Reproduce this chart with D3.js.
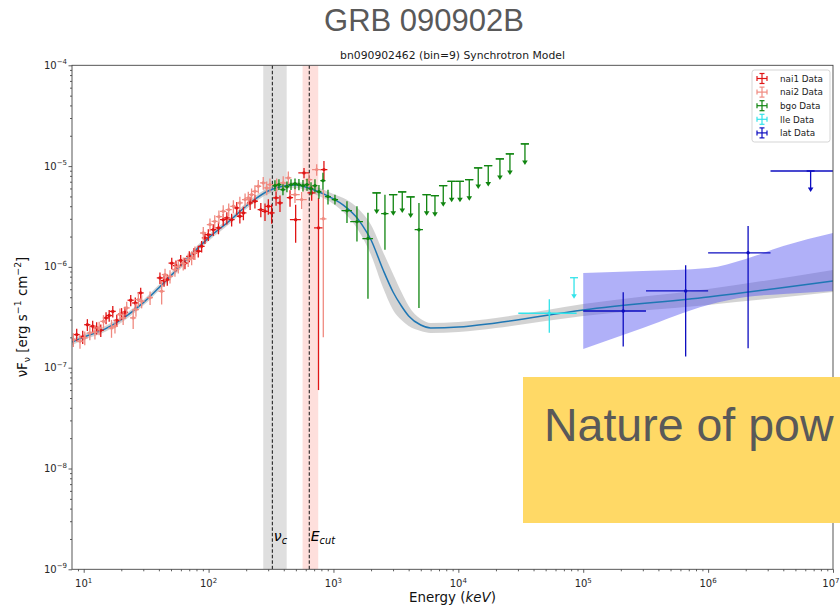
<!DOCTYPE html>
<html>
<head>
<meta charset="utf-8">
<title>GRB 090902B</title>
<script src="https://cdn.jsdelivr.net/npm/d3@7/dist/d3.min.js"></script>
<style>
  html, body { margin: 0; padding: 0; background: #ffffff; }
  svg { display: block; }
</style>
</head>
<body>
<svg id="chart" width="840" height="610"></svg>
<script>
// ---------------------------------------------------------------
// Data. Energies in keV, fluxes (nuFnu) in units of 1e-7 erg s^-1 cm^-2
// ---------------------------------------------------------------
const FLUX_UNIT = 1e-7;

// Best-fit synchrotron + power-law model and its 68% band
const modelE  = [8, 10, 15, 20, 30, 40, 50, 70, 100, 150, 200, 300, 400, 500, 700, 1000, 1200, 1500, 1700, 2000, 2500, 3000, 3500, 4000, 5000, 6000, 1e4, 2e4, 1e5, 1e6, 1e7];
const modelF  = [1.79, 2.01, 2.44, 3.00, 4.42, 6.22, 8.19, 12.6, 19.4, 29.2, 40.2, 56.6, 63.5, 64.9, 57.9, 47.2, 41.1, 32.0, 26.0, 18.5, 9.31, 5.64, 4.09, 3.26, 2.65, 2.48, 2.53, 2.78, 3.74, 5.03, 7.25];
const modelLo = [1.67, 1.88, 2.28, 2.80, 4.13, 5.81, 7.65, 11.8, 18.1, 27.3, 37.5, 52.8, 59.3, 60.6, 52.8, 42.1, 35.0, 25.5, 19.8, 13.1, 6.17, 3.74, 2.97, 2.59, 2.31, 2.21, 2.26, 2.48, 3.26, 4.19, 5.64];
const modelHi = [1.92, 2.15, 2.61, 3.21, 4.73, 6.66, 8.77, 13.5, 20.8, 31.3, 43.1, 60.6, 68.0, 69.5, 63.5, 52.9, 48.2, 40.2, 34.2, 26.1, 14.0, 8.51, 5.63, 4.10, 3.04, 2.78, 2.84, 3.12, 4.29, 6.04, 9.32];

// Spectral break energies (cooling frequency, cutoff) with uncertainty ranges
const breakNames = ["c", "cut"];
const breakE  = [324, 640];
const breakLo = [274, 566];
const breakHi = [422, 755];

// NaI detector 1
const nai1E  = [8.79, 9.82, 10.7, 11.8, 12.7, 13.7, 15.1, 16.0, 17.1, 18.4, 20.1, 21.4, 23.8, 25.9, 28.6, 40.8, 44.0, 46.7, 50.7, 54.8, 59.8, 64.7, 70.1, 76.4, 82.7, 88.0, 93.5, 99.5, 109, 120, 131, 140, 153, 168, 178, 190, 215, 235, 262, 283, 301, 320, 347, 373, 449, 498, 581, 669, 759, 839];
const nai1dE = [0.50, 0.56, 0.61, 0.67, 0.72, 0.78, 0.86, 0.91, 0.97, 1.05, 1.15, 1.22, 1.36, 1.48, 1.63, 2.3, 2.5, 2.7, 2.9, 3.1, 3.4, 3.7, 4.0, 4.4, 4.7, 5.0, 5.3, 5.7, 6.2, 6.8, 7.5, 8.0, 8.7, 9.6, 10, 11, 12, 13, 15, 16, 17, 18, 20, 21, 26, 50, 58, 50, 60, 55];
const nai1F  = [2.13, 2.02, 2.67, 2.58, 2.48, 2.35, 3.12, 3.29, 3.62, 2.95, 3.44, 3.55, 4.67, 4.39, 5.52, 7.78, 7.31, 7.48, 10.9, 10.3, 11.6, 10.9, 12.7, 13.6, 14.3, 16.0, 19.4, 20.9, 23.4, 24.4, 29.4, 30.6, 29.4, 38.5, 31.8, 34.3, 43.1, 44.8, 37.0, 35.6, 39.9, 34.3, 48.4, 43.1, 48.6, 29.4, 85.6, 54.2, 24.4, 92.3];
const nai1dF = [0.30, 0.30, 0.36, 0.35, 0.34, 0.33, 0.42, 0.44, 0.48, 0.40, 0.46, 0.47, 0.60, 0.57, 0.70, 1.0, 0.95, 0.97, 1.4, 1.3, 1.5, 1.4, 1.6, 1.8, 1.9, 2.1, 2.5, 2.8, 3.1, 3.3, 4.0, 4.2, 4.2, 5.5, 4.8, 5.2, 6.5, 6.8, 6.0, 7.0, 7.0, 7.5, 8.0, 8.0, 9.0, 12, 10, 9.0, 23.8, 20];

// NaI detector 2
const nai2E  = [8.26, 9.34, 10.2, 11.2, 12.3, 13.3, 14.4, 16.7, 17.8, 19.5, 20.7, 22.1, 24.9, 26.2, 27.4, 29.1, 34.0, 42.1, 44.8, 49.1, 53.8, 57.2, 62.7, 68.7, 73.2, 77.8, 90.7, 102.6, 112, 121, 131, 145, 158, 178, 196, 208, 221, 235, 250, 274, 292, 310, 351, 396, 435, 492, 556, 637, 734, 829];
const nai2dE = [0.47, 0.53, 0.58, 0.64, 0.70, 0.76, 0.82, 0.95, 1.0, 1.1, 1.2, 1.26, 1.42, 1.5, 1.56, 1.66, 1.9, 2.4, 2.6, 2.8, 3.1, 3.3, 3.6, 3.9, 4.2, 4.4, 5.2, 5.8, 6.4, 6.9, 7.5, 8.3, 9.0, 10, 11, 12, 12.6, 13.4, 14, 16, 17, 18, 20, 23, 25, 45, 55, 40, 60, 50];
const nai2F  = [1.90, 1.83, 1.98, 2.21, 2.25, 2.48, 2.88, 2.48, 2.58, 3.37, 3.12, 3.92, 3.12, 3.77, 4.74, 4.56, 4.95, 5.73, 8.39, 8.06, 9.40, 10.1, 10.8, 11.8, 12.3, 13.8, 21.7, 26.3, 28.3, 31.5, 35.6, 37.0, 39.9, 43.1, 46.5, 48.4, 52.1, 56.2, 63.1, 68.1, 60.8, 65.5, 65.5, 68.1, 76.4, 52.1, 46.5, 73.5, 92.3, 30.0];
const nai2dF = [0.30, 0.29, 0.31, 0.34, 0.35, 0.38, 0.44, 0.50, 0.40, 0.50, 0.47, 0.58, 0.70, 0.56, 0.70, 0.68, 0.75, 1.5, 1.2, 1.2, 1.4, 1.5, 1.6, 1.8, 1.9, 2.1, 3.2, 3.9, 4.2, 4.7, 5.3, 5.5, 6.0, 6.5, 7.0, 7.3, 7.8, 8.4, 9.5, 10, 9.5, 10, 10, 11, 12, 9, 9, 11, 12, 28];

// BGO detections
const bgoE   = [340, 366, 394, 424, 457, 492, 529, 570, 614, 661, 711, 765, 824, 904, 1028, 1283, 1542, 1889, 2584, 4837];
const bgodE  = [16, 17, 19, 20, 22, 23, 25, 27, 29, 31, 34, 36, 39, 50, 60, 123, 180, 185, 175, 370];
const bgoF   = [64.0, 65.5, 58.4, 62.5, 65.5, 67.0, 65.5, 64.0, 65.5, 59.7, 64.0, 55.8, 71.7, 49.8, 46.5, 36.1, 28.1, 19.1, 33.8, 23.4];
const bgoFlo = [56.5, 58.0, 51.5, 55.0, 58.0, 59.0, 57.5, 56.0, 57.0, 51.5, 55.0, 47.5, 58.4, 41.5, 41.5, 27.3, 17.9, 4.84, 14.8, 3.92];
const bgoFhi = [72.5, 74.0, 66.0, 70.5, 74.0, 75.5, 74.5, 73.0, 75.0, 69.0, 74.0, 65.0, 86.1, 58.4, 52.1, 44.7, 39.9, 34.5, 52.1, 43.1];
// BGO upper limits
const bgoUlE  = [2218, 3012, 3555, 4151, 5576, 6498, 7571, 8840, 10300, 12230, 14430, 17350, 21530, 25890, 34140];
const bgoUldE = [170, 230, 270, 315, 420, 490, 575, 670, 780, 930, 1100, 1320, 1640, 1970, 2600];
const bgoUlF  = [54.2, 52.1, 55.4, 49.4, 52.1, 50.9, 64.0, 70.6, 70.6, 73.4, 95.9, 101.1, 117.8, 132.0, 165.9];

// LAT Low Energy events
const lleE   = [5.35e4];
const lleElo = [3.02e4];
const lleEhi = [8.85e4];
const lleF   = [3.47];
const lleFlo = [2.22];
const lleFhi = [4.77];
const lleUlE = [8.44e4];
const lleUlF = [7.81];

// LAT
const latE   = [2.09e5, 6.61e5, 2.09e6];
const latElo = [1.0e5, 3.18e5, 1.0e6];
const latEhi = [3.18e5, 1.0e6, 3.16e6];
const latF   = [3.65, 5.77, 13.8];
const latFlo = [1.62, 1.29, 1.56];
const latFhi = [5.60, 10.4, 25.5];
const latUlE   = [6.62e6];
const latUlElo = [3.16e6];
const latUlEhi = [1.4e7];
const latUlF   = [89.4];
// LAT power-law butterfly
const latBandE  = [1e5, 3e5, 1e6, 2e6, 4e6, 1e7];
const latBandLo = [1.53, 2.48, 4.19, 5.03, 5.38, 5.77];
const latBandHi = [8.70, 9.10, 9.75, 12.0, 16.1, 21.7];

// Axis decades and legend
const xTickExp = [1, 2, 3, 4, 5, 6, 7];
const yTickExp = [-9, -8, -7, -6, -5, -4];
const legendNames = ["nai1 Data", "nai2 Data", "bgo Data", "lle Data", "lat Data"];

// ---------------------------------------------------------------
// Drawing
// ---------------------------------------------------------------
const W = 840;
const svg = d3.select('#chart');
const PLOT = { left: 72, right: 833, top: 65.3, bottom: 569.3 };
const chartFont = "'DejaVu Sans', Verdana, sans-serif";
const slideFont = "'Liberation Sans', Arial, sans-serif";
const COLORS = {
  nai1: '#e01515', nai2: '#f08a80', bgo: '#108510', lle: '#33e3ea', lat: '#0c0cc0',
  model: '#1f77b4'
};
const legendColors = [COLORS.nai1, COLORS.nai2, COLORS.bgo, COLORS.lle, COLORS.lat];

const x = d3.scaleLog().domain([8.06, 1e7]).range([PLOT.left, PLOT.right]);
const y = d3.scaleLog().domain([1e-9, 1e-4]).range([PLOT.bottom, PLOT.top]);
const fy = v => y(Math.max(v, 1e-4) * FLUX_UNIT);

// slide title
svg.append('text')
  .attr('x', 424).attr('y', 31).attr('text-anchor', 'middle')
  .attr('font-family', slideFont).attr('font-size', 31).attr('fill', '#595959')
  .text('GRB 090902B');

// axes title
svg.append('text')
  .attr('x', (PLOT.left + PLOT.right) / 2).attr('y', 59).attr('text-anchor', 'middle')
  .attr('font-family', chartFont).attr('font-size', 10.8).attr('fill', '#1a1a1a')
  .text('bn090902462 (bin=9) Synchrotron Model');

svg.append('defs').append('clipPath').attr('id', 'plotClip').append('rect')
  .attr('x', PLOT.left).attr('y', PLOT.top)
  .attr('width', PLOT.right - PLOT.left).attr('height', PLOT.bottom - PLOT.top);

const plot = svg.append('g').attr('clip-path', 'url(#plotClip)');

// shaded break-energy ranges and dashed markers
const breakFill = ['#808080', '#fa8072'];
breakE.forEach((e, i) => {
  plot.append('rect')
    .attr('x', x(breakLo[i])).attr('width', x(breakHi[i]) - x(breakLo[i]))
    .attr('y', PLOT.top).attr('height', PLOT.bottom - PLOT.top)
    .attr('fill', breakFill[i]).attr('fill-opacity', 0.25);
});
breakE.forEach(e => {
  plot.append('line')
    .attr('x1', x(e)).attr('x2', x(e)).attr('y1', PLOT.top).attr('y2', PLOT.bottom)
    .attr('stroke', '#111').attr('stroke-width', 1).attr('stroke-dasharray', '3.5,2');
});

// model band and LAT butterfly
const rowsOf = (E, lo, hi) => E.map((e, i) => ({ e, lo: lo[i], hi: hi[i] }));
const band = d3.area().x(d => x(d.e)).y0(d => fy(d.lo)).y1(d => fy(d.hi)).curve(d3.curveMonotoneX);
plot.append('path').datum(rowsOf(modelE, modelLo, modelHi))
  .attr('d', band).attr('fill', '#a8a8a8').attr('fill-opacity', 0.5);
plot.append('path').datum(rowsOf(latBandE, latBandLo, latBandHi))
  .attr('d', band).attr('fill', '#5050f0').attr('fill-opacity', 0.45);

// model curve
const line = d3.line().x(d => x(d.e)).y(d => fy(d.f)).curve(d3.curveMonotoneX);
plot.append('path').datum(modelE.map((e, i) => ({ e, f: modelF[i] })))
  .attr('d', line).attr('fill', 'none').attr('stroke', COLORS.model).attr('stroke-width', 1.5);

// error bars
function errorbars(rows, color) {
  const g = plot.append('g').attr('stroke', color).attr('fill', color).attr('stroke-width', 1.3);
  rows.forEach(r => {
    const cx = x(r.e), cy = fy(r.f);
    g.append('line').attr('x1', x(r.elo)).attr('x2', x(r.ehi)).attr('y1', cy).attr('y2', cy);
    g.append('line').attr('x1', cx).attr('x2', cx).attr('y1', fy(r.flo)).attr('y2', fy(r.fhi));
    g.append('circle').attr('cx', cx).attr('cy', cy).attr('r', 1.7).attr('stroke', 'none');
  });
}
function upperLimits(rows, color) {
  const g = plot.append('g').attr('stroke', color).attr('fill', color).attr('stroke-width', 1.3);
  rows.forEach(r => {
    const cx = x(r.e), cy = fy(r.f), tip = cy + 21;
    g.append('line').attr('x1', cx - 4).attr('x2', cx + 4).attr('y1', cy).attr('y2', cy);
    if (r.elo !== undefined) {
      g.append('line').attr('x1', x(r.elo)).attr('x2', x(r.ehi)).attr('y1', cy).attr('y2', cy);
    }
    g.append('line').attr('x1', cx).attr('x2', cx).attr('y1', cy).attr('y2', tip - 3);
    g.append('path').attr('stroke', 'none')
      .attr('d', `M${cx - 2.8},${tip - 4.5}L${cx + 2.8},${tip - 4.5}L${cx},${tip}Z`);
  });
}

const symRows = (E, dE, F, dF) => E.map((e, i) => ({
  e, elo: e - dE[i], ehi: e + dE[i], f: F[i], flo: F[i] - dF[i], fhi: F[i] + dF[i]
}));
const boundRows = (E, Elo, Ehi, F, Flo, Fhi) => E.map((e, i) => ({
  e, elo: Elo[i], ehi: Ehi[i], f: F[i], flo: Flo[i], fhi: Fhi[i]
}));

errorbars(symRows(nai1E, nai1dE, nai1F, nai1dF), COLORS.nai1);
errorbars(symRows(nai2E, nai2dE, nai2F, nai2dF), COLORS.nai2);
errorbars(bgoE.map((e, i) => ({ e, elo: e - bgodE[i], ehi: e + bgodE[i], f: bgoF[i], flo: bgoFlo[i], fhi: bgoFhi[i] })), COLORS.bgo);
upperLimits(bgoUlE.map((e, i) => ({ e, elo: e - bgoUldE[i], ehi: e + bgoUldE[i], f: bgoUlF[i] })), COLORS.bgo);
errorbars(boundRows(lleE, lleElo, lleEhi, lleF, lleFlo, lleFhi), COLORS.lle);
upperLimits(lleUlE.map((e, i) => ({ e, f: lleUlF[i] })), COLORS.lle);
errorbars(boundRows(latE, latElo, latEhi, latF, latFlo, latFhi), COLORS.lat);
upperLimits(latUlE.map((e, i) => ({ e, elo: latUlElo[i], ehi: latUlEhi[i], f: latUlF[i] })), COLORS.lat);

// break labels
breakE.forEach((e, i) => {
  const t = svg.append('text')
    .attr('x', x(e) + 1.5).attr('y', 540.5)
    .attr('font-family', chartFont).attr('font-size', 14).attr('font-style', 'italic').attr('fill', '#000');
  t.append('tspan').text(i === 0 ? 'ν' : 'E');
  t.append('tspan').attr('dy', 3).attr('font-size', 9.8).text(breakNames[i]);
});

// axes: ticks drawn by d3 axis generators, decade labels with superscripts
const tickColor = '#333';
const isDecade = v => Math.abs(Math.log10(v) - Math.round(Math.log10(v))) < 1e-9;
const xMinor = x.ticks().filter(v => !isDecade(v));
const yMinor = y.ticks().filter(v => !isDecade(v));
const xMajor = xTickExp.map(p => Math.pow(10, p));
const yMajor = yTickExp.map(p => Math.pow(10, p));

function styleAxis(g) {
  g.select('.domain').remove();
  g.selectAll('.tick line').attr('stroke', tickColor).attr('stroke-width', 0.8);
  g.selectAll('.tick text').remove();
}
svg.append('g').attr('transform', `translate(0,${PLOT.bottom})`)
  .call(d3.axisBottom(x).tickValues(xMinor).tickSize(2)).call(styleAxis);
svg.append('g').attr('transform', `translate(0,${PLOT.bottom})`)
  .call(d3.axisBottom(x).tickValues(xMajor).tickSize(3.5)).call(styleAxis);
svg.append('g').attr('transform', `translate(${PLOT.left},0)`)
  .call(d3.axisLeft(y).tickValues(yMinor).tickSize(2)).call(styleAxis);
svg.append('g').attr('transform', `translate(${PLOT.left},0)`)
  .call(d3.axisLeft(y).tickValues(yMajor).tickSize(3.5)).call(styleAxis);

const supText = p => (p < 0 ? '\u2212' + Math.abs(p) : String(p));
xTickExp.forEach((p, i) => {
  const t = svg.append('text')
    .attr('x', x(xMajor[i])).attr('y', 587).attr('text-anchor', 'middle')
    .attr('font-family', chartFont).attr('font-size', 10).attr('fill', '#262626');
  t.append('tspan').text('10');
  t.append('tspan').attr('dy', -4.5).attr('font-size', 7).text(supText(p));
  // keep the right-most decade label inside the page
  const bb = t.node().getBBox();
  if (bb.x + bb.width > W - 0.5) t.attr('x', +t.attr('x') - (bb.x + bb.width - (W - 0.5)));
});
yTickExp.forEach((p, i) => {
  const t = svg.append('text')
    .attr('x', 67).attr('y', y(yMajor[i]) + 3.5).attr('text-anchor', 'end')
    .attr('font-family', chartFont).attr('font-size', 10).attr('fill', '#262626');
  t.append('tspan').text('10');
  t.append('tspan').attr('dy', -4.5).attr('font-size', 7).text(supText(p));
});

// frame
svg.append('rect')
  .attr('x', PLOT.left).attr('y', PLOT.top)
  .attr('width', PLOT.right - PLOT.left).attr('height', PLOT.bottom - PLOT.top)
  .attr('fill', 'none').attr('stroke', '#444').attr('stroke-width', 0.9);

// axis labels
const xl = svg.append('text')
  .attr('x', (PLOT.left + PLOT.right) / 2).attr('y', 602).attr('text-anchor', 'middle')
  .attr('font-family', chartFont).attr('font-size', 13.4).attr('fill', '#111');
xl.append('tspan').text('Energy (');
xl.append('tspan').attr('font-style', 'italic').text('keV');
xl.append('tspan').text(')');

const yl = svg.append('text')
  .attr('transform', 'translate(26.5,317) rotate(-90)').attr('text-anchor', 'middle')
  .attr('font-family', chartFont).attr('font-size', 13.4).attr('fill', '#111');
yl.append('tspan').text('νF');
yl.append('tspan').attr('dy', 3).attr('font-size', 9.4).text('ν');
yl.append('tspan').attr('dy', -3).text(' [erg s');
yl.append('tspan').attr('dy', -5.5).attr('font-size', 9.4).text('\u22121');
yl.append('tspan').attr('dy', 5.5).text(' cm');
yl.append('tspan').attr('dy', -5.5).attr('font-size', 9.4).text('\u22122');
yl.append('tspan').attr('dy', 5.5).text(']');

// legend
const lg = svg.append('g');
lg.append('rect').attr('x', 752).attr('y', 70).attr('width', 78).attr('height', 72).attr('rx', 2.5)
  .attr('fill', '#fff').attr('fill-opacity', 0.85).attr('stroke', '#d0d0d0').attr('stroke-width', 0.9);
legendNames.forEach((name, i) => {
  const cy = 78.5 + i * 13.6, cx = 762, c = legendColors[i];
  const g = lg.append('g').attr('stroke', c).attr('stroke-width', 1.2);
  g.append('line').attr('x1', cx - 5).attr('x2', cx + 5).attr('y1', cy).attr('y2', cy);
  g.append('line').attr('x1', cx).attr('x2', cx).attr('y1', cy - 5).attr('y2', cy + 5);
  g.append('line').attr('x1', cx - 2.5).attr('x2', cx + 2.5).attr('y1', cy - 5).attr('y2', cy - 5);
  g.append('line').attr('x1', cx - 2.5).attr('x2', cx + 2.5).attr('y1', cy + 5).attr('y2', cy + 5);
  g.append('line').attr('x1', cx - 5).attr('x2', cx - 5).attr('y1', cy - 2.5).attr('y2', cy + 2.5);
  g.append('line').attr('x1', cx + 5).attr('x2', cx + 5).attr('y1', cy - 2.5).attr('y2', cy + 2.5);
  lg.append('text').attr('x', 780).attr('y', cy + 3.2)
    .attr('font-family', chartFont).attr('font-size', 8.8).attr('fill', '#222').text(name);
});

// slide call-out box
svg.append('rect').attr('x', 523).attr('y', 377).attr('width', 317).attr('height', 146).attr('fill', '#ffd966');
svg.append('text').attr('x', 544).attr('y', 441)
  .attr('font-family', slideFont).attr('font-size', 46.5).attr('fill', '#595959')
  .text('Nature of pow');
</script>
</body>
</html>
